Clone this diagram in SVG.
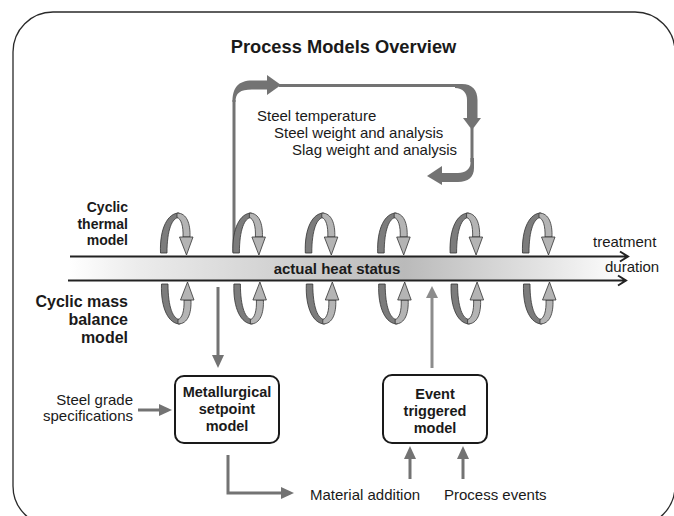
<svg xmlns="http://www.w3.org/2000/svg" xmlns:xlink="http://www.w3.org/1999/xlink" width="674" height="516" viewBox="0 0 674 516">
<defs>
<style>
.t{font-family:"Liberation Sans",Arial,sans-serif;fill:#1a1a1a}
.b{font-weight:bold}
.ln{fill:none;stroke:#737373;stroke-width:3}
.ah{fill:#737373}
.lt{fill:none;stroke:#8c8c8c;stroke-width:3}
.ahl{fill:#8c8c8c}
.box{fill:#fff;stroke:#1a1a1a;stroke-width:2}
.axis{fill:none;stroke:#222;stroke-width:2}
.dk{fill:#7c7c7c;stroke:#333;stroke-width:0.8}
.lg{fill:#b4b4b4;stroke:#333;stroke-width:0.8}
</style>
<linearGradient id="band" x1="69" y1="0" x2="628" y2="0" gradientUnits="userSpaceOnUse">
<stop offset="0" stop-color="#ffffff"/>
<stop offset="0.12" stop-color="#ececec"/>
<stop offset="0.6" stop-color="#bababa"/>
<stop offset="0.85" stop-color="#e4e4e4"/>
<stop offset="1" stop-color="#ffffff"/>
</linearGradient>
<g id="rot">
<path class="dk" d="M -17.5 -3 C -18.5 -28, -10 -43, 1 -43 L 1 -38.5 C -6 -38.5, -11 -26, -11 -3 Z"/>
<path class="lg" d="M -1 -43 C 9 -43, 12.5 -32, 12 -19 L 5 -19 C 5.5 -30, 3 -37.5, -1 -38.5 Z"/>
<polygon class="lg" points="1.5,-19 15,-19 8.5,-1"/>
</g>
</defs>
<rect width="674" height="516" fill="#fff"/>
<rect id="frame" x="13" y="12" width="662" height="514" rx="40" fill="none" stroke="#2a2a2a" stroke-width="1.3"/>
<text id="title" class="t b" x="343.5" y="53" font-size="18.3" text-anchor="middle">Process Models Overview</text>

<g id="connectors">
<!-- feedback loop -->
<path class="ln" d="M 234 252 V 100"/>
<path class="ah" d="M 232.5 102 C 232.5 88, 238 80.5, 252 80.5 L 268 80.5 L 268 89.5 L 252 89.5 C 240 89.5, 235.5 93, 235.5 102 Z"/>
<polygon class="ah" points="267,75 281,85 267,95"/>
<path class="ln" d="M 279 85.5 H 458" stroke-width="2.5"/>
<path class="ah" d="M 455 84 L 462 84 C 472 84, 477.5 90, 477.5 100 L 477.5 119 L 467 119 L 467 100 C 467 93, 463 88, 455 88 Z"/>
<polygon class="ah" points="463,118 481,118 472,130"/>
<path class="ln" d="M 472 128 V 162"/>
<path class="ah" d="M 474 158 L 474 168 C 474 177, 468 182, 458 182 L 442 182 L 442 173 L 458 173 C 465 173, 470.5 169, 470.5 163 L 470.5 158 Z"/>
<polygon class="ah" points="442,166 427,176 442,185"/>
<!-- band to metallurgical -->
<path class="ln" d="M 218 287 V 357"/>
<polygon class="ah" points="212,355 224,355 218,368"/>
<!-- steel grade -->
<path class="ln" d="M 138 410 H 160"/>
<polygon class="ah" points="159,404 172,410 159,416"/>
<!-- material addition -->
<path class="ln" d="M 228 455 V 493 H 283"/>
<polygon class="ah" points="281,487 294,493 281,499"/>
<!-- inputs to event -->
<path class="ln" d="M 410 479 V 457"/>
<polygon class="ah" points="404,459 416,459 410,446"/>
<path class="ln" d="M 463 479 V 457"/>
<polygon class="ah" points="457,459 469,459 463,446"/>
<!-- event to band -->
<path class="lt" d="M 432 368 V 296"/>
<polygon class="ahl" points="426,298 438,298 432,286"/>
</g>

<g id="status-band">
<rect x="69" y="256" width="559" height="24" fill="url(#band)"/>
<path class="axis" d="M 70 256.5 H 627 M 620 251.5 L 628 256.5 L 620 261.5"/>
<path class="axis" d="M 68 280.5 H 625 M 618 275.5 L 626 280.5 L 618 285.5"/>
<text class="t b" x="337" y="273.5" font-size="15" text-anchor="middle">actual heat status</text>
<text class="t" x="593" y="247" font-size="15">treatment</text>
<text class="t" x="605" y="272" font-size="15">duration</text>
</g>

<g id="cyclic-arrows">
<use xlink:href="#rot" transform="translate(178,256)"/>
<use xlink:href="#rot" transform="translate(250.4,256)"/>
<use xlink:href="#rot" transform="translate(322.8,256)"/>
<use xlink:href="#rot" transform="translate(395.2,256)"/>
<use xlink:href="#rot" transform="translate(467.6,256)"/>
<use xlink:href="#rot" transform="translate(540,256)"/>
<use xlink:href="#rot" transform="translate(179,281) scale(1,-1)"/>
<use xlink:href="#rot" transform="translate(251.4,281) scale(1,-1)"/>
<use xlink:href="#rot" transform="translate(323.8,281) scale(1,-1)"/>
<use xlink:href="#rot" transform="translate(396.2,281) scale(1,-1)"/>
<use xlink:href="#rot" transform="translate(468.6,281) scale(1,-1)"/>
<use xlink:href="#rot" transform="translate(541,281) scale(1,-1)"/>
</g>

<g id="cyclic-thermal-model">
<text class="t b" font-size="14" text-anchor="end"><tspan x="128" y="212">Cyclic</tspan><tspan x="128" y="228.5">thermal</tspan><tspan x="128" y="245">model</tspan></text>
</g>
<g id="cyclic-mass-balance-model">
<text class="t b" font-size="16" text-anchor="end"><tspan x="128" y="307">Cyclic mass</tspan><tspan x="128" y="325">balance</tspan><tspan x="128" y="343">model</tspan></text>
</g>

<g id="feedback-labels">
<text class="t" font-size="15"><tspan x="257" y="121">Steel temperature</tspan><tspan x="274" y="138">Steel weight and analysis</tspan><tspan x="292" y="155">Slag weight and analysis</tspan></text>
</g>

<g id="steel-grade">
<text class="t" font-size="15" text-anchor="end"><tspan x="133" y="405">Steel grade</tspan><tspan x="133" y="421">specifications</tspan></text>
</g>

<g id="metallurgical-setpoint-model">
<rect class="box" x="175" y="376" width="104" height="67" rx="9"/>
<text class="t b" font-size="14.5" text-anchor="middle"><tspan x="227" y="397">Metallurgical</tspan><tspan x="227" y="414">setpoint</tspan><tspan x="227" y="431">model</tspan></text>
</g>

<g id="event-triggered-model">
<rect class="box" x="383" y="375" width="104" height="68" rx="9"/>
<text class="t b" font-size="14.5" text-anchor="middle"><tspan x="435" y="399">Event</tspan><tspan x="435" y="416">triggered</tspan><tspan x="435" y="433">model</tspan></text>
</g>

<g id="material-addition">
<text class="t" x="310" y="500" font-size="15">Material addition</text>
</g>
<g id="process-events">
<text class="t" x="444" y="500" font-size="15">Process events</text>
</g>
</svg>
